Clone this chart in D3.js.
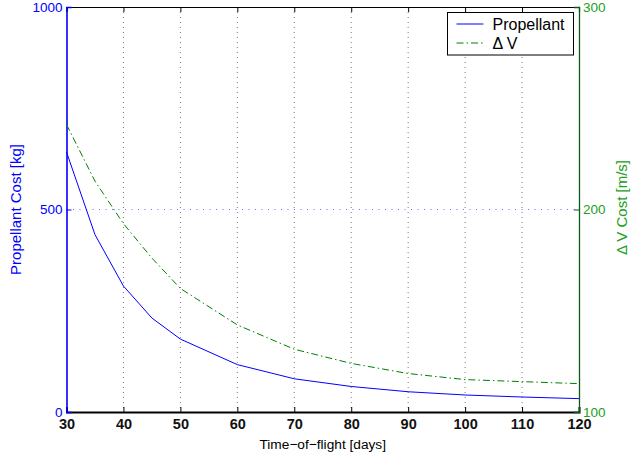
<!DOCTYPE html>
<html>
<head>
<meta charset="utf-8">
<script src="https://cdn.jsdelivr.net/npm/d3@7"></script>
<style>
  body { margin: 0; background: #fff; }
  svg { font-family: "Liberation Sans", Arial, sans-serif; }
</style>
</head>
<body>
<div id="plot"></div>
<script>
// time of flight in days
const days = [30, 35, 40, 45, 50, 60, 70, 80, 90, 100, 110, 120];
// propellant cost [kg] (left axis)
const propellant = [642, 438, 311, 232, 180, 117, 82, 63, 50, 42, 37, 33];
// delta V cost [m/s] (right axis)
const deltaV = [242, 214, 193, 176, 161, 143, 131, 124, 119, 116, 115, 114];

const xTicks = [30, 40, 50, 60, 70, 80, 90, 100, 110, 120];
const leftTicks = [0, 500, 1000];
const rightTicks = [100, 200, 300];

const width = 637, height = 456;
const margin = { top: 7, right: 58, bottom: 44, left: 66.5 };

const blue = "#0000ff", green = "#008000", greenText = "#22a022";

const svg = d3.select("#plot").append("svg")
  .attr("width", width)
  .attr("height", height);

const x = d3.scaleLinear().domain([30, 120]).range([margin.left, width - margin.right]);
const yL = d3.scaleLinear().domain([0, 1000]).range([height - margin.bottom, margin.top]);
const yR = d3.scaleLinear().domain([100, 300]).range([height - margin.bottom, margin.top]);

const x0 = x.range()[0], x1 = x.range()[1];
const yb = yL.range()[0], yt = yL.range()[1];

// grid lines
svg.append("g")
  .selectAll("line")
  .data(xTicks.slice(1, -1))
  .join("line")
  .attr("x1", d => x(d)).attr("x2", d => x(d))
  .attr("y1", yt).attr("y2", yb)
  .attr("stroke", "#777")
  .attr("stroke-width", 1)
  .attr("stroke-dasharray", "1,4");

svg.append("line")
  .attr("x1", x0).attr("x2", x1)
  .attr("y1", yL(500)).attr("y2", yL(500))
  .attr("stroke", "#7070ff")
  .attr("stroke-width", 1)
  .attr("stroke-dasharray", "1,5.5");

// axes
const xAxis = svg.append("g")
  .attr("transform", `translate(0,${yb})`)
  .call(d3.axisBottom(x).tickValues(xTicks).tickSize(-5).tickPadding(7).tickFormat(d3.format("d")));
xAxis.select(".domain").attr("stroke", "#000").attr("stroke-width", 2);
xAxis.selectAll("text").attr("font-size", 14.5).attr("font-weight", "bold").attr("fill", "#111")
  .attr("font-family", "Liberation Sans, Arial, sans-serif");

const xTop = svg.append("g")
  .attr("transform", `translate(0,${yt})`)
  .call(d3.axisTop(x).tickValues(xTicks).tickSize(-5).tickFormat(""));
xTop.select(".domain").attr("stroke", "#000").attr("stroke-width", 1.2);

const lAxis = svg.append("g")
  .attr("transform", `translate(${x0},0)`)
  .call(d3.axisLeft(yL).tickValues(leftTicks).tickSize(-5).tickPadding(4).tickFormat(d3.format("d")));
lAxis.select(".domain").attr("stroke", blue).attr("stroke-width", 1.6);
lAxis.selectAll(".tick line").attr("stroke", blue);
lAxis.selectAll("text").attr("font-size", 13.5).attr("fill", blue)
  .attr("font-family", "Liberation Sans, Arial, sans-serif");

const rAxis = svg.append("g")
  .attr("transform", `translate(${x1},0)`)
  .call(d3.axisRight(yR).tickValues(rightTicks).tickSize(-5).tickPadding(4).tickFormat(d3.format("d")));
rAxis.select(".domain").attr("stroke", "#0a5a1a").attr("stroke-width", 1.3);
rAxis.selectAll(".tick line").attr("stroke", "#0a5a1a");
rAxis.selectAll("text").attr("font-size", 13.5).attr("fill", greenText)
  .attr("font-family", "Liberation Sans, Arial, sans-serif");

// lines
svg.append("path")
  .datum(days.map((d, i) => [d, propellant[i]]))
  .attr("fill", "none")
  .attr("stroke", blue)
  .attr("stroke-width", 1)
  .attr("d", d3.line().x(d => x(d[0])).y(d => yL(d[1])));

svg.append("path")
  .datum(days.map((d, i) => [d, deltaV[i]]))
  .attr("fill", "none")
  .attr("stroke", green)
  .attr("stroke-width", 1)
  .attr("stroke-dasharray", "7,3,1.5,3")
  .attr("d", d3.line().x(d => x(d[0])).y(d => yR(d[1])));

// axis labels
svg.append("text")
  .attr("x", (x0 + x1) / 2).attr("y", 449)
  .attr("text-anchor", "middle")
  .attr("font-size", 13.7)
  .text("Time\u2212of\u2212flight [days]");

svg.append("text")
  .attr("transform", `translate(21,${yL(500)}) rotate(-90)`)
  .attr("text-anchor", "middle")
  .attr("font-size", 15)
  .attr("fill", blue)
  .text("Propellant Cost [kg]");

svg.append("text")
  .attr("transform", `translate(627,${yL(500) - 2}) rotate(-90)`)
  .attr("text-anchor", "middle")
  .attr("font-size", 15)
  .attr("fill", greenText)
  .text("\u0394 V Cost [m/s]");

// legend
const legend = svg.append("g").attr("transform", "translate(447.5,12.5)");
legend.append("rect")
  .attr("width", 126).attr("height", 42.5)
  .attr("fill", "#fff").attr("stroke", "#000").attr("stroke-width", 1);

const legendItems = [
  { label: "Propellant", color: blue, dash: null },
  { label: "\u0394 V", color: green, dash: "7,3,1.5,3" }
];
legendItems.forEach((item, i) => {
  const cy = 11.5 + i * 19;
  legend.append("line")
    .attr("x1", 9).attr("x2", 36)
    .attr("y1", cy).attr("y2", cy)
    .attr("stroke", item.color)
    .attr("stroke-width", 1)
    .attr("stroke-dasharray", item.dash);
  legend.append("text")
    .attr("x", 45).attr("y", cy + 5.5)
    .attr("font-size", 16)
    .text(item.label);
});
</script>
</body>
</html>
